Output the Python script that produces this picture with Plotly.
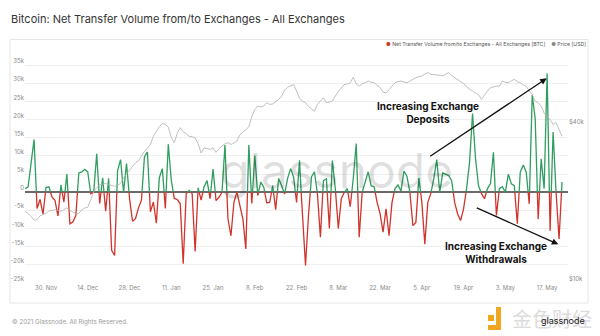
import pandas as pd
import plotly.graph_objects as go

# Daily net transfer volume to/from exchanges, thousand BTC (23 Nov 2020 .. 22 May 2021)
net_flow_k = [
    1, 1.5, 8, 14.5, -4.5, -2, -6, 1.3, 1.5, -1.3,
    -2.2, -6.5, 2, -2.7, 5, -8.7, -8.2, -6.4, 5.3, 5.6,
    6.3, 5.6, -0.4, 0, 10.6, -3.1, 4, -5.2, 3.8, -16,
    -17.4, 6, 9, 0, 7.9, -1.7, -8, -7.3, -4.3, -2.2,
    9.8, 11.1, -5.4, -2.7, -8.5, 4, 6.5, -4.5, 13.2, 3.3,
    -1.7, -2, -3.1, -19.7, -0.4, 0.5, -0.4, -16.3, 1.2, -2.2,
    1.5, 3.2, -1.8, 6.4, -2.3, -1.4, 0, 13, -7.3, -12,
    -2.8, 0, -3.6, -7.3, -15.6, 13, -3.1, 10.1, -0.9, 2.8,
    1.4, -2.9, -2.8, 1.8, -4.8, 3.8, 1.8, -0.5, 3.8, 6.5,
    4.2, -2.8, 8.8, -7.3, -20.2, -6.4, 4.2, 5.6, -0.5, -12.4,
    3.2, 3.7, -10, 8.7, 0.9, -10, -1.8, 0, 1, -4,
    3.7, 13.4, -12.4, 0, 2.8, 5.6, 1.8, 1.5, -2.8, -5.9,
    -11, -4.6, -12, -2.8, 1, 2, 0.3, 5.8, 4.4, 0,
    -9.2, -8.3, 3.9, -2.8, -14.3, -2.8, -0.4, 3.7, 9, 0,
    5.3, 5, 4.6, 3.2, -2.8, -6, -7.8, -4.5, 1, 8.3,
    21.7, 9.3, 1.8, -0.4, -1.8, 1, 2.3, 11, -6.4, 1,
    1.5, 0, 5, 2.3, 1.8, -8.7, 5.5, 7.5, 5.5, -3.2,
    26.8, 20.3, -7.4, 9.2, 1, 32.7, -10.6, 16.6, 0, -12.9,
    2.8,
]

# Daily BTC price, thousand USD
price_k = [
    18.8, 18.5, 18.0, 17.4, 17.5, 18.1, 18.3, 18.5, 18.9, 19.0,
    19.1, 19.0, 18.8, 19.1, 19.4, 19.0, 18.7, 18.4, 18.5, 19.1,
    19.4, 19.5, 20.9, 22.4, 23.2, 23.8, 23.9, 24.1, 23.8, 23.6,
    23.5, 23.7, 24.1, 25.3, 26.2, 27.2, 28.2, 28.9, 29.4, 30.5,
    32.0, 32.8, 34.0, 36.5, 38.2, 39.8, 40.9, 40.6, 39.6, 36.2,
    34.5, 37.5, 39.4, 38.0, 37.4, 36.5, 36.4, 36.0, 34.2, 31.5,
    33.0, 32.7, 32.5, 33.0, 31.7, 32.8, 33.5, 34.2, 34.5, 34.0,
    34.4, 35.0, 37.0, 38.0, 38.8, 39.7, 43.5, 46.3, 47.7, 47.3,
    47.7, 49.1, 48.4, 48.6, 49.4, 50.6, 52.1, 55.0, 56.3, 56.9,
    57.7, 54.5, 51.0, 49.8, 49.1, 47.5, 46.6, 45.6, 48.4, 49.8,
    51.3, 49.1, 49.4, 49.8, 52.1, 54.3, 55.9, 57.7, 57.9, 58.6,
    61.6, 58.0, 56.9, 58.1, 58.6, 59.5, 58.9, 58.6, 57.3, 56.1,
    54.0, 53.5, 55.2, 57.0, 58.6, 59.2, 59.5, 59.0, 58.6, 59.5,
    60.6, 61.3, 61.8, 62.2, 63.3, 64.1, 63.1, 63.0, 63.1, 62.6,
    62.2, 63.3, 64.1, 62.4, 61.3, 60.4, 59.3, 58.2, 56.5, 55.2,
    54.4, 53.5, 52.8, 50.6, 52.8, 54.5, 56.1, 56.5, 56.9, 56.9,
    59.5, 58.8, 58.6, 59.6, 60.4, 59.2, 58.6, 57.5, 56.9, 54.5,
    52.8, 49.8, 49.1, 47.7, 44.8, 43.5, 42.4, 40.5, 41.2, 38.8,
    36.5,
]

start_date = "2020-11-23"
x_tick_dates = ["2020-11-30", "2020-12-14", "2020-12-28", "2021-01-11", "2021-01-25",
                "2021-02-08", "2021-02-22", "2021-03-08", "2021-03-22", "2021-04-05",
                "2021-04-19", "2021-05-03", "2021-05-17"]
y_tick_vals = [-25000, -20000, -15000, -10000, -5000, 0, 5000, 10000, 15000,
               20000, 25000, 30000, 35000, 40000]
y_tick_text = ["-25k", "-20k", "-15k", "-10k", "-5k", "0", "5k", "10k", "15k",
               "20k", "25k", "30k", "35k", ""]
price_tick_vals = [10000, 40000]
price_tick_text = ["$10k", "$40k"]

dates = pd.date_range(start_date, periods=len(net_flow_k), freq="D")
net_flow = [v * 1000 for v in net_flow_k]
price = [v * 1000 for v in price_k]

GREEN = "#2f9e5f"
RED = "#d0342c"
GREY = "#b0b0b0"


def split_by_sign(xs, ys):
    """Break the series into runs above / below zero, joined on the zero line."""
    runs = []
    sign = 1 if ys[0] >= 0 else -1
    cur_x, cur_y = [xs[0]], [ys[0]]
    for i in range(1, len(ys)):
        y0, y1 = ys[i - 1], ys[i]
        s1 = sign if y1 == 0 else (1 if y1 > 0 else -1)
        if s1 != sign:
            if y0 != 0:
                t = y0 / (y0 - y1)
                xc = xs[i - 1] + (xs[i] - xs[i - 1]) * t
                cur_x.append(xc)
                cur_y.append(0)
            else:
                xc = xs[i - 1]
            runs.append((sign, cur_x, cur_y))
            cur_x, cur_y = [xc], [0]
            sign = s1
        cur_x.append(xs[i])
        cur_y.append(y1)
    runs.append((sign, cur_x, cur_y))
    out = {1: ([], []), -1: ([], [])}
    for s, rx, ry in runs:
        out[s][0].extend(rx + [None])
        out[s][1].extend(ry + [None])
    return out


parts = split_by_sign(list(dates), net_flow)

fig = go.Figure()
fig.add_trace(go.Scatter(x=dates, y=price, yaxis="y2", mode="lines",
                         line=dict(color=GREY, width=0.8), name="Price [USD]"))
fig.add_trace(go.Scatter(x=parts[1][0], y=parts[1][1], mode="lines",
                         line=dict(color=GREEN, width=1.3), name="inflow"))
fig.add_trace(go.Scatter(x=parts[-1][0], y=parts[-1][1], mode="lines",
                         line=dict(color=RED, width=1.3), name="outflow"))

# plot area spans px 25..568 horizontally and 47..283 vertically
L, R, T, B = 25, 568, 47, 283


def px_x(px):
    return (px - L) / (R - L)


def px_y(py):
    return (B - py) / (B - T)


tick_font = dict(family="Inter", size=6, color="#8a8a8a")

fig.update_layout(
    width=600, height=336,
    margin=dict(l=L, r=600 - R, t=T, b=336 - B),
    paper_bgcolor="white", plot_bgcolor="white",
    showlegend=False,
    font=dict(family="Inter"),
    title=dict(text="Bitcoin: Net Transfer Volume from/to Exchanges - All Exchanges",
               x=11 / 600, xanchor="left", y=1 - 19 / 336, yanchor="middle",
               font=dict(family="Inter", size=11, color="#333333")),
    xaxis=dict(range=["2020-11-22 23:00", "2021-05-24"], type="date",
               tickvals=x_tick_dates, tickformat="%-d. %b",
               showgrid=False, zeroline=False, showline=False, ticks="",
               tickfont=tick_font),
    yaxis=dict(range=[-25000, 40000], tickvals=y_tick_vals, ticktext=y_tick_text,
               showgrid=True, gridcolor="#efefef", gridwidth=1,
               zeroline=True, zerolinecolor="#6a6a6a", zerolinewidth=2,
               showline=False, ticks="", tickfont=tick_font, ticklabelshift=-4),
    yaxis2=dict(type="log", range=[4, 4.905], overlaying="y", side="right",
                tickvals=price_tick_vals, ticktext=price_tick_text,
                showgrid=False, zeroline=False, showline=False, ticks="",
                tickfont=tick_font, ticklabelshift=-4),
)

# chart card border
fig.add_shape(type="rect", xref="paper", yref="paper",
              x0=px_x(10), x1=px_x(588), y0=px_y(303), y1=px_y(39.5),
              line=dict(color="#e6e6e6", width=1), layer="below")


def note(px, py, text, size, color, anchor="center"):
    fig.add_annotation(xref="paper", yref="paper", x=px_x(px), y=px_y(py),
                       xanchor=anchor, yanchor="middle", text=text, showarrow=False,
                       font=dict(family="Inter", size=size, color=color))


# legend line
note(588, 44.5,
     f"<span style='color:{RED}'>●</span> Net Transfer Volume from/to Exchanges - All Exchanges [BTC]"
     f"&nbsp;&nbsp;&nbsp;&nbsp;<span style='color:#8a8a8a'>●</span> Price [USD]",
     5.2, "#555555", anchor="right")

# background watermark
note(336, 170, "glassnode", 48, "rgba(0,0,0,0.13)")

# call-outs
note(428, 112, "<b>Increasing Exchange<br>Deposits</b>", 10, "#111111")
fig.add_annotation(xref="paper", yref="paper", x=px_x(546.7), y=px_y(78.3),
                   ax=-118, ay=79, text="", showarrow=True,
                   arrowhead=2, arrowsize=1, arrowwidth=1.3, arrowcolor="#111111")
note(495.5, 252.5, "<b>Increasing Exchange<br>Withdrawals</b>", 10, "#111111")
fig.add_annotation(xref="paper", yref="paper", x=px_x(558.3), y=px_y(244.3),
                   ax=-83, ay=-37, text="", showarrow=True,
                   arrowhead=2, arrowsize=1, arrowwidth=1.3, arrowcolor="#111111")

# footer
note(10, 321.5, "© 2021 Glassnode. All Rights Reserved.", 6.2, "#9a9a9a", anchor="left")

# source mark, bottom right
fig.add_shape(type="rect", xref="paper", yref="paper",
              x0=px_x(488), x1=px_x(494), y0=px_y(321), y1=px_y(315),
              fillcolor="#f2a51f", line=dict(width=0))
fig.add_shape(type="path", xref="paper", yref="paper",
              path=(f"M {px_x(496)},{px_y(307)} L {px_x(501)},{px_y(307)} "
                    f"L {px_x(501)},{px_y(330)} L {px_x(488)},{px_y(330)} "
                    f"L {px_x(488)},{px_y(325)} L {px_x(496)},{px_y(325)} Z"),
              fillcolor="#f2a51f", line=dict(width=0))
fig.add_annotation(xref="paper", yref="paper", x=px_x(594), y=px_y(318.5),
                   xanchor="right", yanchor="middle", text="金色财经", showarrow=False,
                   font=dict(family="Noto Sans CJK SC", size=20, color="#dcdcdc"))
note(587, 320, "glassnode", 9, "#222222", anchor="right")

fig.write_html("out.html")
